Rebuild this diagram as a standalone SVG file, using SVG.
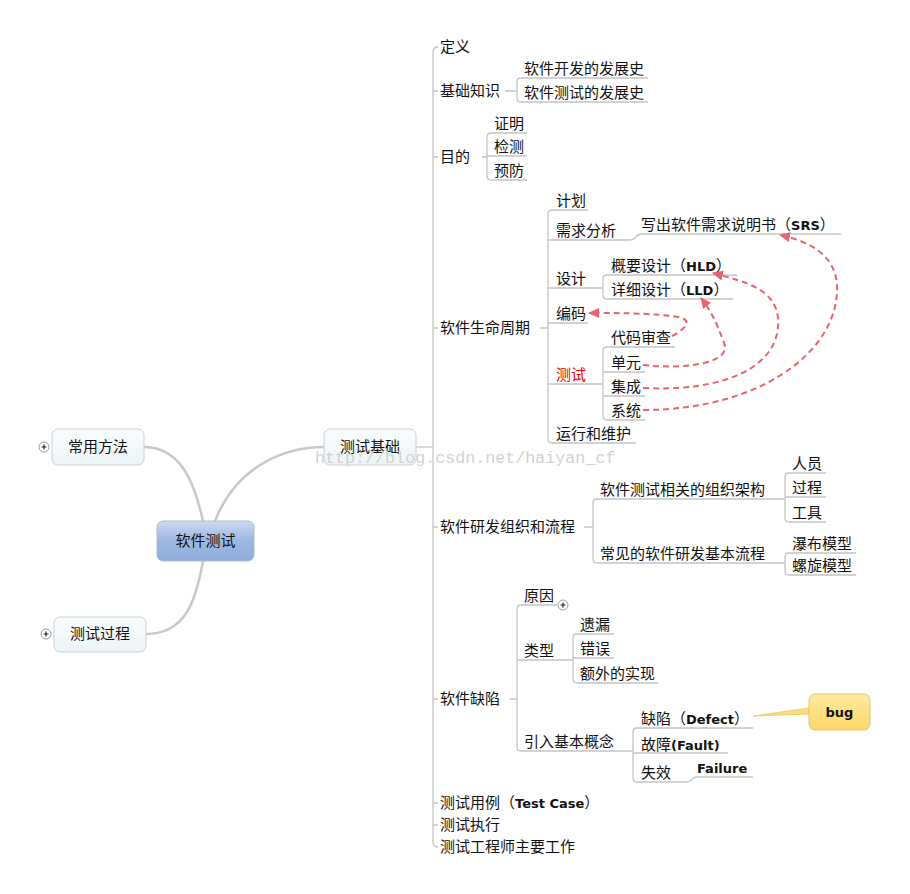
<svg xmlns="http://www.w3.org/2000/svg" width="910" height="894" viewBox="0 0 910 894">
<style>
text{font-family:"Noto Sans CJK SC","Noto Sans",sans-serif;font-size:15px;fill:#111}
.b{font-family:"DejaVu Sans",Verdana,sans-serif;font-weight:bold;font-size:13px}
.red{fill:#EE0000}
.mid{text-anchor:middle}
.ln{fill:none;stroke:#C4C4C4;stroke-width:1.3}
.main{fill:none;stroke:#C8C8C8;stroke-width:2.5}
.node{fill:url(#gNode);stroke:#C6D2DA;stroke-width:1}
.dash{fill:none;stroke:#E8636B;stroke-width:2;stroke-dasharray:6,4;marker-end:url(#ah)}
.plus{fill:#fff;stroke:#9A9A9A;stroke-width:1}
.plusl{stroke:#222;stroke-width:1.2}
.wm{font-family:"Liberation Mono","DejaVu Sans Mono",monospace;font-size:16.7px;fill:#D2D2D2}
</style>
<defs>
<linearGradient id="gNode" x1="0" y1="0" x2="0" y2="1"><stop offset="0" stop-color="#F9FCFD"/><stop offset="1" stop-color="#EDF4F7"/></linearGradient>
<linearGradient id="gRoot" x1="0" y1="0" x2="0" y2="1"><stop offset="0" stop-color="#CCDBF1"/><stop offset="0.45" stop-color="#9FB9E2"/><stop offset="1" stop-color="#8DACDA"/></linearGradient>
<linearGradient id="gBug" x1="0" y1="0" x2="0" y2="1"><stop offset="0" stop-color="#FEE9A0"/><stop offset="1" stop-color="#FCD866"/></linearGradient>
<marker id="ah" markerUnits="userSpaceOnUse" markerWidth="12" markerHeight="11" refX="10" refY="5" orient="auto"><path d="M0,0 L11,5 L0,10 z" fill="#E8636B"/></marker>
</defs>
<rect width="910" height="894" fill="#fff"/>

<g id="connectors">
<path class="main" d="M144,447 C184,447 196,490 203,521"/>
<path class="main" d="M215,521 C238,462 290,447 324,447"/>
<path class="main" d="M203,561 C196,600 186,634 146,634"/>
<path class="ln" d="M416,447 H433"/>
<path class="ln" d="M438,47 Q433,47 433,52 V842 Q433,847 438,847"/>
<path class="ln" d="M433,91 H438 M433,157 H438 M433,328 H438 M433,527 H438 M433,699 H438 M433,803 H438 M433,825 H438"/>
<path class="ln" d="M505,91 H517 M482,157 H487 M540,328 H548 M584,527 H593 M510,699 H517"/>
<!-- basics -->
<path class="ln" d="M648,78 H521 Q517,78 517,82 V98 Q517,102 521,102 H648"/>
<!-- purpose -->
<path class="ln" d="M527,133 H491 Q487,133 487,137 V176 Q487,180 491,180 H527 M487,156 H527"/>
<!-- lifecycle -->
<path class="ln" d="M588,210 H552 Q548,210 548,214 V439 Q548,443 552,443 H636"/>
<path class="ln" d="M548,240 H630 Q634,240 636,237 Q638,234 642,234 H841"/>
<path class="ln" d="M548,288 H603 M548,323 H588 M548,384 H603"/>
<path class="ln" d="M737,275 H607 Q603,275 603,279 V295 Q603,299 607,299 H733"/>
<path class="ln" d="M675,347 H607 Q603,347 603,351 V416 Q603,420 607,420 H645 M603,372 H645 M603,396 H645"/>
<!-- org -->
<path class="ln" d="M785,499 H597 Q593,499 593,503 V559 Q593,563 597,563 H785"/>
<path class="ln" d="M826,473 H789 Q785,473 785,477 V518 Q785,522 789,522 H826 M785,497 H826"/>
<path class="ln" d="M856,553 H789 Q785,553 785,557 V571 Q785,575 789,575 H856"/>
<!-- defect -->
<path class="ln" d="M557,605 H521 Q517,605 517,609 V747 Q517,751 521,751 H633 M517,660 H573"/>
<path class="ln" d="M614,634 H577 Q573,634 573,638 V679 Q573,683 577,683 H658 M573,658 H614"/>
<path class="ln" d="M753,728 H637 Q633,728 633,732 V778 Q633,782 637,782 H686 Q690,782 692,779 Q694,777 698,777 H753 M633,753 H728"/>
<!-- dashed relations -->
<path class="dash" d="M672,336 C686,329 696,318 672,316 C645,313 618,313 589,313"/>
<path class="dash" d="M643,365 C690,370 732,362 724,343 C717,324 712,312 701,298"/>
<path class="dash" d="M643,388 C722,392 782,368 778,318 C775,289 746,282 713,273"/>
<path class="dash" d="M643,410 C762,410 840,350 837,285 C835,256 812,242 780,235"/>
</g>

<g id="root">
<rect x="157" y="521" width="97" height="40" rx="6" fill="url(#gRoot)" stroke="#AEBCD0"/>
<text class="mid" x="205.5" y="546">软件测试</text>
</g>
<g id="n-methods">
<rect class="node" x="52" y="429" width="92" height="36" rx="6"/>
<text class="mid" x="98" y="452">常用方法</text>
<circle class="plus" cx="44" cy="447" r="5"/>
<path class="plusl" d="M41.5,447 H46.5 M44,444.5 V449.5"/>
</g>
<g id="n-process">
<rect class="node" x="54" y="617" width="92" height="35" rx="6"/>
<text class="mid" x="100" y="639">测试过程</text>
<circle class="plus" cx="46" cy="634" r="5"/>
<path class="plusl" d="M43.5,634 H48.5 M46,631.5 V636.5"/>
</g>
<g id="n-basics">
<rect class="node" x="324" y="429" width="92" height="36" rx="6"/>
<text class="mid" x="370" y="452">测试基础</text>
</g>

<g id="level2">
<text x="440" y="52">定义</text>
<text x="440" y="96">基础知识</text>
<text x="440" y="162">目的</text>
<text x="440" y="333">软件生命周期</text>
<text x="440" y="532">软件研发组织和流程</text>
<text x="440" y="704">软件缺陷</text>
<text x="440" y="808">测试用例（<tspan class="b">Test Case</tspan>）</text>
<text x="440" y="830">测试执行</text>
<text x="440" y="852">测试工程师主要工作</text>
</g>
<g id="basics-children">
<text x="524" y="74">软件开发的发展史</text>
<text x="524" y="98">软件测试的发展史</text>
</g>
<g id="purpose-children">
<text x="494" y="129">证明</text>
<text x="494" y="152">检测</text>
<text x="494" y="176">预防</text>
</g>
<g id="lifecycle-children">
<text x="556" y="206">计划</text>
<text x="556" y="236">需求分析</text>
<text x="641" y="230">写出软件需求说明书（<tspan class="b">SRS</tspan>）</text>
<text x="556" y="284">设计</text>
<text x="611" y="271">概要设计（<tspan class="b">HLD</tspan>）</text>
<text x="611" y="295">详细设计（<tspan class="b">LLD</tspan>）</text>
<text x="556" y="319">编码</text>
<text class="red" x="556" y="380">测试</text>
<text x="611" y="343">代码审查</text>
<text x="611" y="368">单元</text>
<text x="611" y="392">集成</text>
<text x="611" y="416">系统</text>
<text x="556" y="439">运行和维护</text>
</g>
<g id="org-children">
<text x="600" y="495">软件测试相关的组织架构</text>
<text x="792" y="469">人员</text>
<text x="792" y="493">过程</text>
<text x="792" y="518">工具</text>
<text x="600" y="559">常见的软件研发基本流程</text>
<text x="792" y="549">瀑布模型</text>
<text x="792" y="571">螺旋模型</text>
</g>
<g id="defect-children">
<text x="524" y="601">原因</text>
<circle class="plus" cx="563" cy="605" r="5"/>
<path class="plusl" d="M560.5,605 H565.5 M563,602.5 V607.5"/>
<text x="524" y="656">类型</text>
<text x="580" y="630">遗漏</text>
<text x="580" y="654">错误</text>
<text x="580" y="679">额外的实现</text>
<text x="524" y="747">引入基本概念</text>
<text x="641" y="724">缺陷（<tspan class="b">Defect</tspan>）</text>
<text x="641" y="750">故障<tspan class="b">(Fault)</tspan></text>
<text x="641" y="778">失效</text>
<text class="b" x="697" y="773">Failure</text>
</g>
<g id="bug-callout">
<path d="M809,708 L753,716 L809,714 z" fill="#FCDD78" stroke="#E6C66A" stroke-width="0.8"/>
<rect x="809" y="694" width="61" height="36" rx="6" fill="url(#gBug)" stroke="#E6C66A"/>
<text class="b mid" x="839.5" y="717">bug</text>
</g>
<text class="wm" x="315" y="463">http://blog.csdn.net/haiyan_cf</text>
</svg>
